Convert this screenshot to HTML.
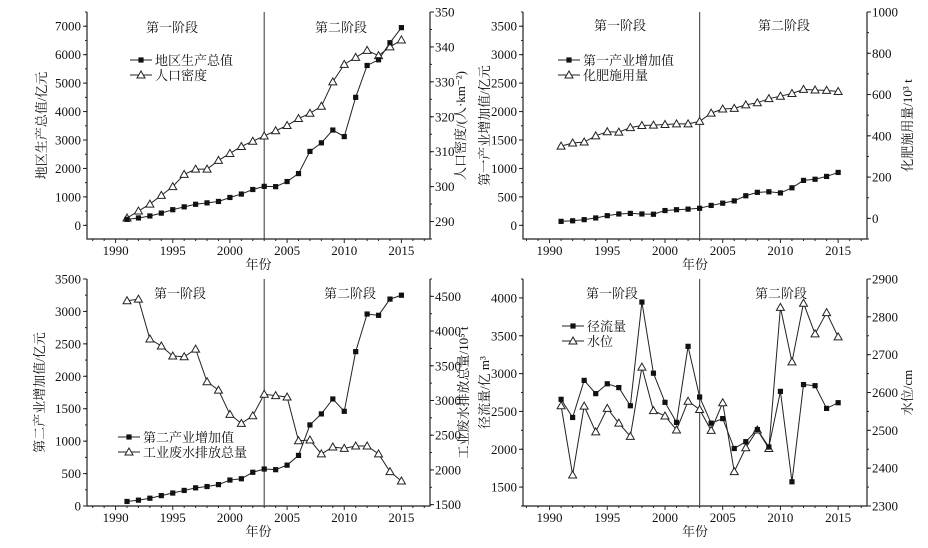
<!DOCTYPE html>
<html><head><meta charset="utf-8"><style>
html,body{margin:0;padding:0;background:#fff;}
svg{display:block;}
text{font-family:"Liberation Serif","Noto Serif CJK SC",serif;fill:#111;}
</style></head><body>
<svg id="chart" width="928" height="548" viewBox="0 0 928 548" xmlns="http://www.w3.org/2000/svg"></svg>
<script>
const years = [1991,1992,1993,1994,1995,1996,1997,1998,1999,2000,2001,2002,2003,2004,2005,2006,2007,2008,2009,2010,2011,2012,2013,2014,2015];
const gdp = [210,260,330,430,550,650,740,790,840,980,1100,1260,1370,1360,1540,1820,2600,2900,3350,3120,4500,5620,5820,6420,6950];
const popDensity = [291,293,295,297.5,300,303.5,305,305,307.5,309.5,311.5,313,314.5,316,317.5,319.5,321,323,330,335,337,339,337.5,340,342];
const primary = [70,80,100,130,170,200,210,200,195,260,275,285,300,350,390,430,520,580,590,570,660,790,810,860,930];
const fertilizer = [350,365,370,400,420,418,440,450,452,455,458,458,470,510,530,533,550,560,580,592,605,625,622,620,615];
const secondary = [70,90,120,160,200,240,280,300,330,400,420,520,570,560,630,780,1250,1420,1650,1460,2380,2960,2940,3190,3250];
const wastewater = [4437,4460,3885,3785,3640,3630,3740,3270,3150,2800,2670,2780,3090,3070,3050,2420,2430,2230,2330,2310,2345,2345,2230,1975,1840];
const runoff = [2660,2420,2910,2735,2865,2815,2575,3945,3005,2620,2355,3360,2690,2345,2405,2010,2100,2260,2030,2765,1570,2855,2840,2540,2615];
const waterLevel = [2565,2382,2564,2496,2558,2519,2484,2667,2552,2538,2501,2577,2555,2500,2573,2391,2454,2501,2452,2825,2681,2836,2755,2811,2747];
const xTicks = [1990,1995,2000,2005,2010,2015];
const stageYear = 2003;

const NS='http://www.w3.org/2000/svg';
const svg=document.getElementById('chart');
function mk(tag,attrs,parent,txt){const e=document.createElementNS(NS,tag);for(const k in attrs)e.setAttribute(k,attrs[k]);if(txt!==undefined)e.textContent=txt;(parent||svg).appendChild(e);return e;}

const panels=[
 {name:'gdp-panel',L:87,R:430,T:12,B:239,xmin:1987.5,xmax:2017.5,
  y1:[-480,7500],t1:[0,1000,2000,3000,4000,5000,6000,7000],m1:500,
  y2:[285,350],t2:[290,300,310,320,330,340,350],m2:5,
  s1:gdp,s2:popDensity,n1:'地区生产总值',n2:'人口密度',
  lab1:'地区生产总值/亿元',lab2:'人口密度/(人·km⁻²)',l1x:46,l2x:465,
  legX:130,legY:60,st:[32,172,341]},
 {name:'primary-panel',L:523,R:867,T:12,B:239,xmin:1987.7,xmax:2017.5,
  y1:[-240,3750],t1:[0,500,1000,1500,2000,2500,3000,3500],m1:250,
  y2:[-100,1000],t2:[0,200,400,600,800,1000],m2:100,
  s1:primary,s2:fertilizer,n1:'第一产业增加值',n2:'化肥施用量',
  lab1:'第一产业增加值/亿元',lab2:'化肥施用量/10³ t',l1x:489,l2x:912,
  legX:558,legY:60,st:[30,620,784]},
 {name:'secondary-panel',L:87,R:430,T:279,B:506,xmin:1987.5,xmax:2017.5,
  y1:[0,3500],t1:[0,500,1000,1500,2000,2500,3000,3500],m1:250,
  y2:[1480,4750],t2:[1500,2000,2500,3000,3500,4000,4500],m2:250,
  s1:secondary,s2:wastewater,n1:'第二产业增加值',n2:'工业废水排放总量',
  lab1:'第二产业增加值/亿元',lab2:'工业废水排放总量/10⁵ t',l1x:44,l2x:468,
  legX:118,legY:437,st:[298,180,350]},
 {name:'runoff-panel',L:523,R:867,T:279,B:506,xmin:1987.7,xmax:2017.5,
  y1:[1250,4250],t1:[1500,2000,2500,3000,3500,4000],m1:250,
  y2:[2300,2900],t2:[2300,2400,2500,2600,2700,2800,2900],m2:50,
  s1:runoff,s2:waterLevel,n1:'径流量',n2:'水位',
  lab1:'径流量/亿 m³',lab2:'水位/cm',l1x:489,l2x:912,
  legX:562,legY:326,st:[298,612,781]}
];

panels.forEach(p=>{
  const g=mk('g',{});
  
  
  const xs=v=>p.L+(v-p.xmin)/(p.xmax-p.xmin)*(p.R-p.L);
  const ys1=v=>p.B-(v-p.y1[0])/(p.y1[1]-p.y1[0])*(p.B-p.T);
  const ys2=v=>p.B-(v-p.y2[0])/(p.y2[1]-p.y2[0])*(p.B-p.T);
  // axes
  const ax=mk('path',{d:`M${p.L},${p.T}V${p.B}H${p.R}V${p.T}`,fill:'none',stroke:'#222','stroke-width':1.2},g);
  
  
  // x ticks
  xTicks.forEach(t=>{
    const x=xs(t);
    mk('line',{x1:x,x2:x,y1:p.B,y2:p.B+4,stroke:'#222'},g);
    const tx=mk('text',{x:x,y:p.B+16,'text-anchor':'middle','font-size':13},g,t);
    
    
  });
  for(let t=1988;t<=2017;t++){ if(t%5){const x=xs(t);mk('line',{x1:x,x2:x,y1:p.B,y2:p.B+2,stroke:'#222'},g);} }
  const xt=mk('text',{x:(p.L+p.R)/2,y:p.B+30,'text-anchor':'middle','font-size':13},g,'年份');
  
  
  // left ticks
  for(let v=Math.ceil(p.y1[0]/p.m1)*p.m1;v<=p.y1[1];v+=p.m1){const y=ys1(v);mk('line',{x1:p.L,x2:p.L-2,y1:y,y2:y,stroke:'#222'},g);}
  p.t1.forEach(t=>{const y=ys1(t);mk('line',{x1:p.L,x2:p.L-4,y1:y,y2:y,stroke:'#222'},g);
    const tx=mk('text',{x:p.L-6,y:y+4.5,'text-anchor':'end','font-size':13},g,t);
    
    });
  for(let v=Math.ceil(p.y2[0]/p.m2)*p.m2;v<=p.y2[1];v+=p.m2){const y=ys2(v);mk('line',{x1:p.R,x2:p.R+2,y1:y,y2:y,stroke:'#222'},g);}
  p.t2.forEach(t=>{const y=ys2(t);mk('line',{x1:p.R,x2:p.R+4,y1:y,y2:y,stroke:'#222'},g);
    const tx=mk('text',{x:p.R+5,y:y+4.5,'text-anchor':'start','font-size':13},g,t);
    
    });
  const cy=(p.T+p.B)/2;
  const l1=mk('text',{x:p.l1x,y:cy,'text-anchor':'middle','font-size':13,transform:`rotate(-90 ${p.l1x} ${cy})`},g,p.lab1);
  
  
  const l2=mk('text',{x:p.l2x,y:cy,'text-anchor':'middle','font-size':13,transform:`rotate(-90 ${p.l2x} ${cy})`},g,p.lab2);
  
  
  // stage divider
  const sx=xs(stageYear);
  const dl=mk('line',{x1:sx,x2:sx,y1:p.T,y2:p.B,stroke:'#555','stroke-width':1.2},g);
  
  
  const s1=mk('text',{x:p.st[1],y:p.st[0],'text-anchor':'middle','font-size':13},g,'第一阶段');
  
  
  const s2=mk('text',{x:p.st[2],y:p.st[0],'text-anchor':'middle','font-size':13},g,'第二阶段');
  
  
  // series
  const pts1=years.map((yr,i)=>[xs(yr),ys1(p.s1[i])]);
  const pts2=years.map((yr,i)=>[xs(yr),ys2(p.s2[i])]);
  const ln2=mk('polyline',{points:pts2.map(q=>q.join(',')).join(' '),fill:'none',stroke:'#222','stroke-width':1},g);
  
  
  const ln1=mk('polyline',{points:pts1.map(q=>q.join(',')).join(' '),fill:'none',stroke:'#222','stroke-width':1},g);
  
  
  const tri=(x,y,parent)=>mk('path',{d:`M${x},${y-4}L${x+4},${y+3}L${x-4},${y+3}Z`,fill:'#fff',stroke:'#222','stroke-width':1},parent);
  const sq=(x,y,parent)=>mk('rect',{x:x-2.6,y:y-2.6,width:5.2,height:5.2,fill:'#111'},parent);
  pts2.forEach(q=>{const m=tri(q[0],q[1],g);
    
    });
  pts1.forEach(q=>{const m=sq(q[0],q[1],g);
    
    });
  // legend
  const lg=mk('g',{},g);
  
  
  mk('line',{x1:p.legX,x2:p.legX+22,y1:p.legY,y2:p.legY,stroke:'#222'},lg);
  sq(p.legX+11,p.legY,lg);
  const e1=mk('text',{x:p.legX+25,y:p.legY+5,'font-size':13},lg,p.n1);
  
  
  mk('line',{x1:p.legX,x2:p.legX+22,y1:p.legY+15,y2:p.legY+15,stroke:'#222'},lg);
  tri(p.legX+11,p.legY+15,lg);
  const e2=mk('text',{x:p.legX+25,y:p.legY+20,'font-size':13},lg,p.n2);
  
  
});
</script>
</body></html>
